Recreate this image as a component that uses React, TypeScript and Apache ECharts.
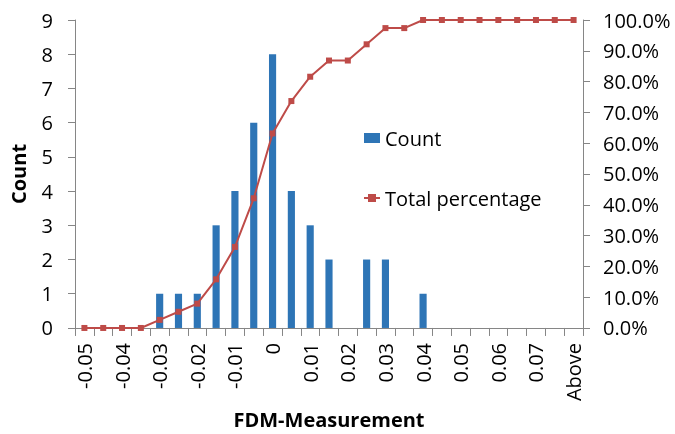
import React, { useEffect, useRef } from "react";
import * as echarts from "echarts";

const categories = [
  "-0.05", "-0.045", "-0.04", "-0.035", "-0.03", "-0.025", "-0.02", "-0.015", "-0.01", "-0.005",
  "0", "0.005", "0.01", "0.015", "0.02", "0.025", "0.03", "0.035", "0.04", "0.045",
  "0.05", "0.055", "0.06", "0.065", "0.07", "0.075", "Above",
];
const counts = [0, 0, 0, 0, 1, 1, 1, 3, 4, 6, 8, 4, 3, 2, 0, 2, 2, 0, 1, 0, 0, 0, 0, 0, 0, 0, 0];
const totalPercentage = [
  0, 0, 0, 0, 2.63, 5.26, 7.89, 15.79, 26.32, 42.11, 63.16, 73.68, 81.58, 86.84, 86.84,
  92.11, 97.37, 97.37, 100, 100, 100, 100, 100, 100, 100, 100, 100,
];
const leftTicksMax = 9;
const rightTicksMax = 100;

const FONT = "Open Sans";
const FS = 20;

export default function App() {
  const ref = useRef<HTMLDivElement>(null);
  useEffect(() => {
    if (!ref.current) return;
    const chart = echarts.init(ref.current, null, { renderer: "svg" });
    chart.setOption({
      animation: false,
      textStyle: { fontFamily: FONT },
      grid: { left: 67, right: 92, top: 20, bottom: 101 },
      legend: {
        orient: "vertical",
        left: 358,
        top: 123,
        itemGap: 40,
        itemWidth: 16,
        itemHeight: 10,
        textStyle: { fontFamily: FONT, fontSize: FS, color: "#000" },
        data: [
          { name: "Count", icon: "rect" },
          { name: "Total percentage" },
        ],
      },
      xAxis: {
        type: "category",
        data: categories,
        name: "FDM-Measurement",
        nameLocation: "middle",
        nameGap: 75,
        nameTextStyle: { fontFamily: FONT, fontSize: FS, fontWeight: "bold", color: "#000" },
        axisLine: { lineStyle: { color: "#868686" } },
        axisTick: { show: true, length: 8, interval: 0, lineStyle: { color: "#868686" } },
        axisLabel: {
          interval: 1,
          rotate: 90,
          fontFamily: FONT,
          fontSize: FS,
          color: "#000",
          margin: 15,
        },
      },
      yAxis: [
        {
          type: "value",
          min: 0,
          max: leftTicksMax,
          interval: 1,
          name: "Count",
          nameLocation: "middle",
          nameGap: 47,
          nameRotate: 90,
          nameTextStyle: { fontFamily: FONT, fontSize: FS, fontWeight: "bold", color: "#000" },
          axisLine: { show: true, lineStyle: { color: "#868686" } },
          axisTick: { show: true, length: 7, lineStyle: { color: "#868686" } },
          splitLine: { show: false },
          axisLabel: { fontFamily: FONT, fontSize: FS, color: "#000", margin: 22 },
        },
        {
          type: "value",
          min: 0,
          max: rightTicksMax,
          interval: 10,
          position: "right",
          axisLine: { show: true, lineStyle: { color: "#868686" } },
          axisTick: { show: true, length: 7, lineStyle: { color: "#868686" } },
          splitLine: { show: false },
          axisLabel: {
            fontFamily: FONT,
            fontSize: FS,
            color: "#000",
            margin: 20,
            formatter: (v: number) => v.toFixed(1) + "%",
          },
        },
      ],
      series: [
        {
          name: "Count",
          type: "bar",
          data: counts,
          barWidth: "38%",
          itemStyle: { color: "#2E75B6" },
          yAxisIndex: 0,
        },
        {
          name: "Total percentage",
          type: "line",
          data: totalPercentage,
          yAxisIndex: 1,
          symbol: "rect",
          symbolSize: 6,
          lineStyle: { color: "#BE4B48", width: 2 },
          itemStyle: { color: "#BE4B48" },
        },
      ],
    });
    return () => chart.dispose();
  }, []);
  return (
    <div
      ref={ref}
      style={{ position: "fixed", left: 0, top: 0, width: 675, height: 434 }}
    />
  );
}
